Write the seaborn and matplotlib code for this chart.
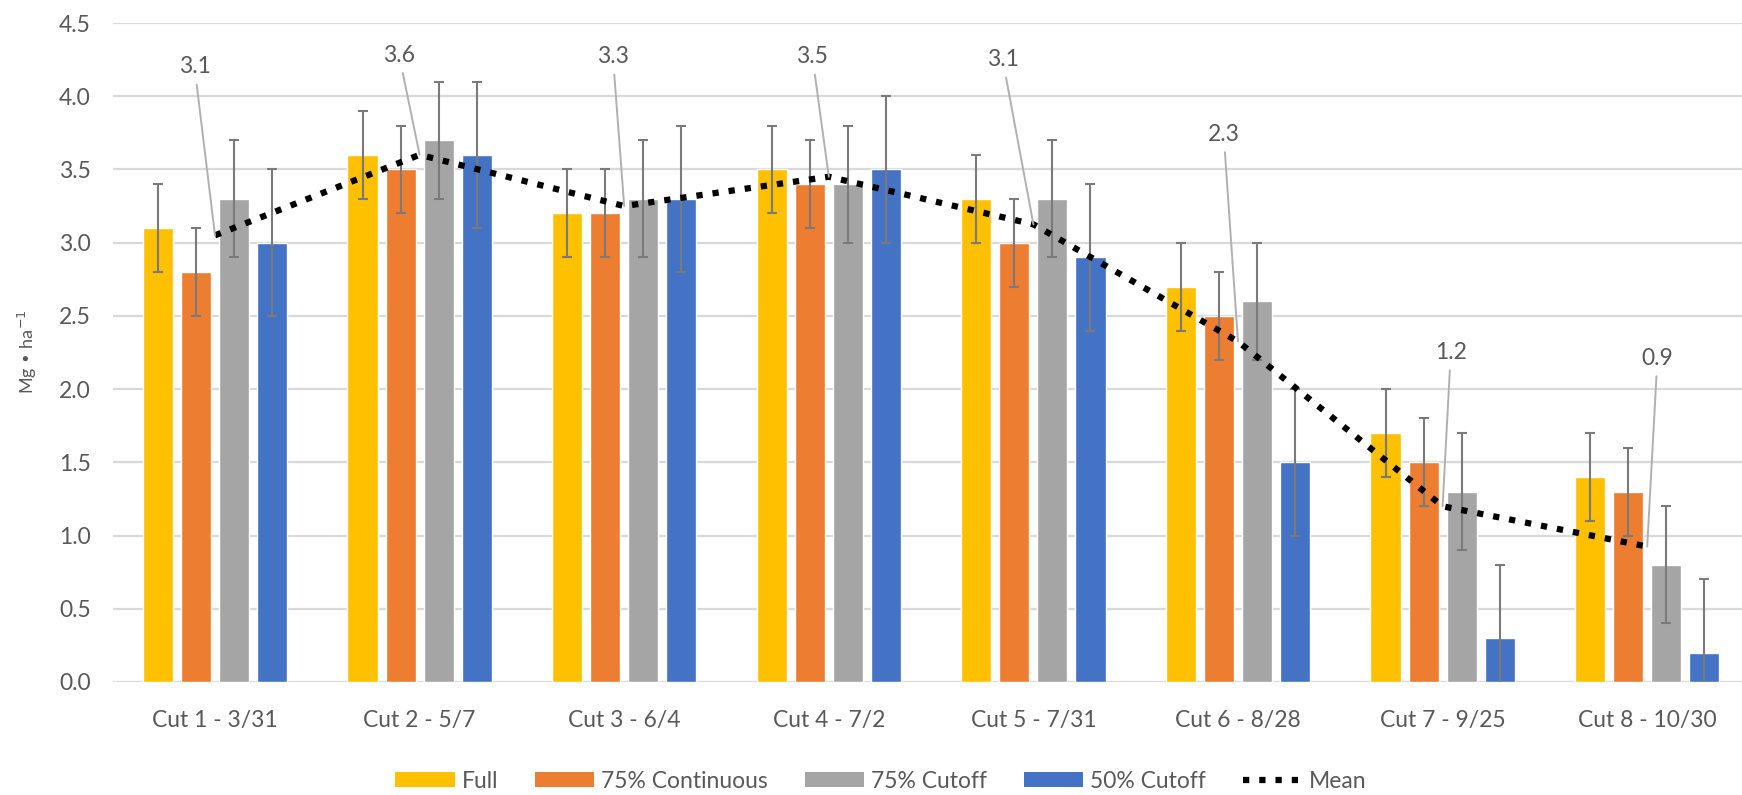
import numpy as np
import pandas as pd
import matplotlib
matplotlib.use("Agg")
import matplotlib.pyplot as plt
import seaborn as sns
from matplotlib.patches import Patch
from matplotlib.lines import Line2D

# ---------------- data ----------------
categories = ["Cut 1 - 3/31", "Cut 2 - 5/7", "Cut 3 - 6/4", "Cut 4 - 7/2",
              "Cut 5 - 7/31", "Cut 6 - 8/28", "Cut 7 - 9/25", "Cut 8 - 10/30"]
series_names = ["Full", "75% Continuous", "75% Cutoff", "50% Cutoff"]

full = [3.1, 3.6, 3.2, 3.5, 3.3, 2.7, 1.7, 1.4]
cont75 = [2.8, 3.5, 3.2, 3.4, 3.0, 2.5, 1.5, 1.3]
cut75 = [3.3, 3.7, 3.3, 3.4, 3.3, 2.6, 1.3, 0.8]
cut50 = [3.0, 3.6, 3.3, 3.5, 2.9, 1.5, 0.3, 0.2]

full_err = [0.3, 0.3, 0.3, 0.3, 0.3, 0.3, 0.3, 0.3]
cont75_err = [0.3, 0.3, 0.3, 0.3, 0.3, 0.3, 0.3, 0.3]
cut75_err = [0.4, 0.4, 0.4, 0.4, 0.4, 0.4, 0.4, 0.4]
cut50_err = [0.5, 0.5, 0.5, 0.5, 0.5, 0.5, 0.5, 0.5]

mean = [3.05, 3.6, 3.25, 3.45, 3.125, 2.325, 1.2, 0.925]
mean_labels = ["3.1", "3.6", "3.3", "3.5", "3.1", "2.3", "1.2", "0.9"]

y_ticks = [0.0, 0.5, 1.0, 1.5, 2.0, 2.5, 3.0, 3.5, 4.0, 4.5]

# ---------------- layout / style ----------------
colors = ["#FFC000", "#ED7D31", "#A5A5A5", "#4472C4"]
label_dx = [-0.10, -0.10, -0.055, -0.08, -0.15, -0.07, 0.04, 0.05]
label_y = [4.20, 4.28, 4.27, 4.27, 4.25, 3.74, 2.25, 2.21]
text_color = "#595959"
fs = 16.5

sns.set_theme(style="white")
plt.rcParams["font.family"] = ["Lato", "DejaVu Sans"]

values = [full, cont75, cut75, cut50]
errors = [full_err, cont75_err, cut75_err, cut50_err]
df = pd.DataFrame({
    "Cut": np.tile(categories, len(series_names)),
    "Treatment": np.repeat(series_names, len(categories)),
    "Yield": np.concatenate(values),
})

W, H = 1742, 795
fig = plt.figure(figsize=(W / 100, H / 100), dpi=100)
ax = fig.add_axes([113 / W, 1 - 682 / H, 1 - 113 / W, (682 - 23) / H])

sns.barplot(data=df, x="Cut", y="Yield", hue="Treatment", order=categories,
            hue_order=series_names, palette=colors, width=0.744, gap=0.21,
            errorbar=None, saturation=1, legend=False, ax=ax, zorder=2)

# error bars placed at the bar centres produced by seaborn
for container, errs in zip(ax.containers, errors):
    xs = [p.get_x() + p.get_width() / 2 for p in container.patches]
    hs = [p.get_height() for p in container.patches]
    ax.errorbar(xs, hs, yerr=errs, fmt="none", ecolor="#7a7a7a",
                elinewidth=1.5, capsize=3.8, capthick=1.5, zorder=3)

# mean line
xpos = np.arange(len(categories))
ax.plot(xpos, mean, color="black", lw=4.5, linestyle=(0, (1, 1.6)),
        dash_capstyle="butt", zorder=4)

# mean data labels with leader lines
for i, (m, lab) in enumerate(zip(mean, mean_labels)):
    ax.annotate(lab, xy=(i, m), xytext=(i + label_dx[i], label_y[i]),
                ha="center", va="center", fontsize=fs, color=text_color,
                arrowprops=dict(arrowstyle="-", color="#b0b0b0", lw=1.4,
                                shrinkA=3, shrinkB=0),
                zorder=5)

ax.set_ylim(0, 4.5)
ax.set_xlim((113 - 215) / 204.6, (1742 - 215) / 204.6)
ax.set_yticks(y_ticks)
ax.set_yticklabels([f"{t:.1f}" for t in y_ticks])
ax.yaxis.grid(True, color="#d9d9d9", lw=1.6)
ax.set_axisbelow(True)
for s in ax.spines.values():
    s.set_visible(False)
ax.tick_params(axis="both", length=0, labelsize=fs, labelcolor=text_color)
ax.tick_params(axis="y", pad=16)
ax.tick_params(axis="x", pad=20)
ax.set_xlabel("")
ax.set_ylabel("")

fig.text(27 / W, 1 - 352 / H, "Mg • ha$^{-1}$", rotation=90, ha="center",
         va="center", fontsize=13, color=text_color)

handles = [Patch(facecolor=c, edgecolor="none") for c in colors]
handles.append(Line2D([0], [0], color="black", lw=4.5, linestyle=(0, (1, 1.6)),
                      dash_capstyle="butt"))
fig.legend(handles, series_names + ["Mean"], loc="center",
           bbox_to_anchor=(881 / W, 1 - 781 / H), ncol=5, frameon=False,
           fontsize=fs, handlelength=2.6, handleheight=0.6,
           handletextpad=0.3, columnspacing=1.6, labelcolor=text_color)

fig.savefig("out.png", dpi=100)
